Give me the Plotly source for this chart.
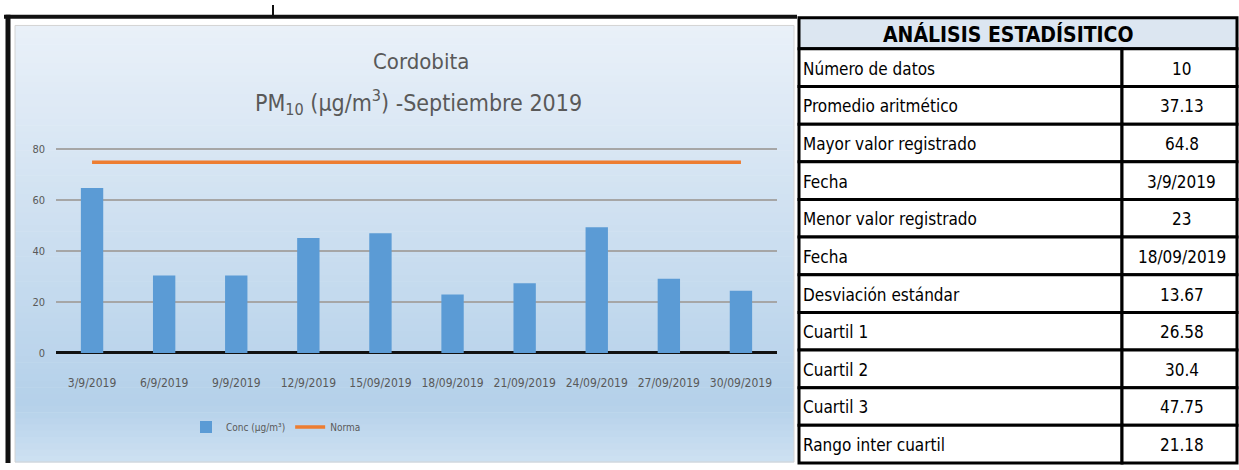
import plotly.graph_objects as go

# data
fechas = ['3/9/2019', '6/9/2019', '9/9/2019', '12/9/2019', '15/09/2019',
          '18/09/2019', '21/09/2019', '24/09/2019', '27/09/2019', '30/09/2019']
conc = [64.8, 30.4, 30.4, 45.2, 47.1, 23.0, 27.4, 49.4, 29.2, 24.4]
norma = [75] * len(fechas)

etiquetas = ['Número de datos', 'Promedio aritmético', 'Mayor valor registrado', 'Fecha',
             'Menor valor registrado', 'Fecha', 'Desviación estándar', 'Cuartil 1',
             'Cuartil 2', 'Cuartil 3', 'Rango inter cuartil']
valores = ['10', '37.13', '64.8', '3/9/2019', '23', '18/09/2019', '13.67',
           '26.58', '30.4', '47.75', '21.18']

W, H = 1239, 470
NARROW = 'Liberation Sans Narrow, DejaVu Sans Condensed, Arial Narrow, sans-serif'


def px(x):
    return x / W


def py(y):
    return 1 - y / H


def note(text, x, y, size, color='black', xanchor='center'):
    return dict(text=text, x=px(x), y=py(y), xref='paper', yref='paper',
                xanchor=xanchor, yanchor='middle', showarrow=False,
                font=dict(family=NARROW, size=size, color=color))


def mix(a, b, t):
    return tuple(int(a[k] + (b[k] - a[k]) * t) for k in range(3))


fig = go.Figure()
fig.add_trace(go.Bar(x=fechas, y=conc, name='Conc (µg/m³)', marker_color='#5b9bd5',
                     marker_line_width=0))
fig.add_trace(go.Scatter(x=fechas, y=norma, name='Norma', mode='lines',
                         line=dict(color='#ed7d31', width=3.5)))

shapes = []
# gradient background of the chart box (light at top, darkest near the legend)
stops = [(21, (234, 241, 249)), (410, (181, 209, 234)), (469, (206, 225, 242))]
bx0, bx1 = 15, 794
n = 70
for i in range(n):
    ya = stops[0][0] + (stops[-1][0] - stops[0][0]) * i / n
    yb = stops[0][0] + (stops[-1][0] - stops[0][0]) * (i + 1) / n + 0.6
    ym = (ya + yb) / 2
    if ym <= stops[1][0]:
        c = mix(stops[0][1], stops[1][1], (ym - stops[0][0]) / (stops[1][0] - stops[0][0]))
    else:
        c = mix(stops[1][1], stops[2][1], (ym - stops[1][0]) / (stops[2][0] - stops[1][0]))
    shapes.append(dict(type='rect', xref='paper', yref='paper', layer='below',
                       x0=px(bx0), x1=px(bx1), y0=py(yb), y1=py(ya),
                       fillcolor='rgb(%d,%d,%d)' % c, line_width=0))
shapes.append(dict(type='rect', xref='paper', yref='paper', layer='below',
                   x0=px(bx0), x1=px(bx1), y0=py(469), y1=py(21),
                   line=dict(color='#d4d4d4', width=1)))

# outer black frame of the chart panel
shapes.append(dict(type='line', xref='paper', yref='paper', x0=px(4), x1=px(797),
                   y0=py(12), y1=py(12), line=dict(color='#111111', width=4)))
shapes.append(dict(type='line', xref='paper', yref='paper', x0=px(8), x1=px(8),
                   y0=py(10), y1=py(470), line=dict(color='#111111', width=5)))
shapes.append(dict(type='line', xref='paper', yref='paper', x0=px(273), x1=px(273),
                   y0=py(0), y1=py(11), line=dict(color='#111111', width=2)))

# statistics table
tx0, tx1, tcol = 799, 1237, 1122
head_top, head_bot = 13, 45
row_h = (H - head_bot) / len(etiquetas)
shapes.append(dict(type='rect', xref='paper', yref='paper', x0=px(tx0), x1=px(tx1),
                   y0=py(head_bot), y1=py(head_top), fillcolor='#dce6f1',
                   line=dict(color='black', width=3)))
annotations = [note('<b>ANÁLISIS ESTADÍSITICO</b>', (tx0 + tx1) / 2 - 10,
                    (head_top + head_bot) / 2 + 1, 21)]
for i, (lab, val) in enumerate(zip(etiquetas, valores)):
    ra = head_bot + i * row_h
    rb = ra + row_h
    shapes.append(dict(type='rect', xref='paper', yref='paper', x0=px(tx0), x1=px(tcol),
                       y0=py(rb), y1=py(ra), fillcolor='white',
                       line=dict(color='black', width=3)))
    shapes.append(dict(type='rect', xref='paper', yref='paper', x0=px(tcol), x1=px(tx1),
                       y0=py(rb), y1=py(ra), fillcolor='white',
                       line=dict(color='black', width=3)))
    annotations.append(note(lab, tx0 + 2, (ra + rb) / 2 + 1, 17, xanchor='left'))
    annotations.append(note(val, (tcol + tx1) / 2 + 2, (ra + rb) / 2 + 1, 17))

# chart title
annotations.append(note('Cordobita', 421, 58, 22, '#595959'))
annotations.append(note('PM<sub>10</sub> (µg/m<sup>3</sup>) -Septiembre 2019', 418, 100,
                        23, '#595959'))

fig.update_layout(
    width=W, height=H,
    margin=dict(l=0, r=0, t=0, b=0),
    paper_bgcolor='white',
    plot_bgcolor='rgba(0,0,0,0)',
    bargap=0.69,
    showlegend=True,
    legend=dict(orientation='h', x=px(276), y=py(433), xanchor='center', yanchor='middle',
                bgcolor='rgba(0,0,0,0)', itemwidth=30,
                font=dict(family=NARROW, size=10, color='#595959')),
    shapes=shapes,
    annotations=annotations,
    xaxis=dict(domain=[px(56), px(777)], type='category', showgrid=False,
               showline=False, zeroline=False, ticklabelstandoff=21,
               tickfont=dict(family=NARROW, size=12, color='#595959')),
    yaxis=dict(domain=[py(357), py(146.7)], range=[0, 80.6], tickvals=[0, 20, 40, 60, 80],
               showgrid=True, gridcolor='#a6a6a6', gridwidth=2,
               zeroline=True, zerolinecolor='#111111', zerolinewidth=2.5,
               showline=False, ticklabelstandoff=10,
               tickfont=dict(family=NARROW, size=11, color='#595959')),
)

fig.write_html('out.html', config={'displayModeBar': False},
               post_script="document.body.style.margin='0';")
